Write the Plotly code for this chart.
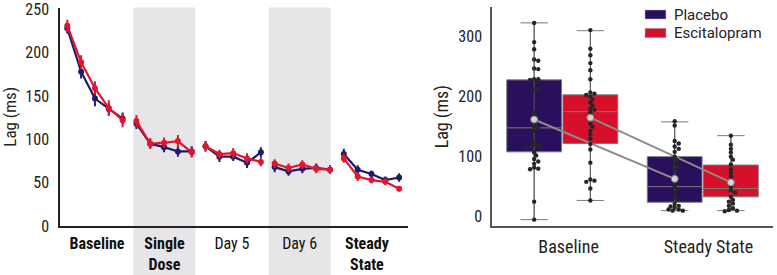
import plotly.graph_objects as go

# ---------------- data: left panel (time course) ----------------
group_names = ["Baseline", "Single Dose", "Day 5", "Day 6", "Steady State"]
group_ticktext = ["<b>Baseline</b>", "<b>Single<br>Dose</b>", "Day 5", "Day 6", "<b>Steady<br>State</b>"]
group_label_pos = [2.15, 7.03, 11.9, 16.8, 21.67]
shaded_groups = ["Single Dose", "Day 6"]
points_per_group = 5

placebo_lag = [228, 178, 147, 135, 124,
               118, 95, 91, 86, 86,
               92, 80, 80, 73, 85,
               68, 63, 66, 67, 65,
               83, 65, 60, 53, 56]
placebo_err = [6, 8, 9, 7, 7,
               6, 6, 6, 6, 6,
               6, 6, 5, 6, 6,
               6, 5, 5, 5, 5,
               6, 5, 4, 4, 5]
escit_lag = [231, 189, 159, 136, 122,
             121, 95, 96, 98, 85,
             92, 83, 84, 78, 74,
             72, 67, 71, 66, 65,
             78, 57, 53, 51, 43]
escit_err = [7, 8, 8, 9, 8,
             7, 6, 6, 7, 6,
             6, 5, 6, 6, 5,
             5, 5, 5, 5, 5,
             5, 5, 4, 4, 3]

# ---------------- data: right panel (box plots) ----------------
box_categories = ["Baseline", "Steady State"]
box_tick_pos = [0.045, 1.04]
conditions = ["Placebo", "Escitalopram"]

placebo_baseline = [323, 291, 279, 262, 260, 247, 246, 229, 229, 228, 213, 212,
                    175, 168, 160, 155, 150, 147, 143, 125, 120, 118, 117, 115,
                    107, 102, 96, 92, 88, 82, 80, 79, 25, -5]
escit_baseline = [311, 280, 269, 256, 244, 229, 207, 205, 203, 200, 195, 190,
                  185, 180, 178, 174, 167, 155, 150, 143, 137, 130, 121, 112,
                  90, 62, 60, 58, 47, 27]
placebo_steady = [159, 152, 126, 122, 117, 113, 108, 100, 95, 89, 84, 77, 63,
                  57, 50, 45, 40, 33, 28, 21, 18, 17, 15, 12, 12, 10, 10]
escit_steady = [135, 120, 113, 107, 100, 95, 87, 79, 73, 67, 59, 50, 44, 40,
                33, 28, 25, 22, 18, 14, 11, 10, 9]

# box statistics as drawn (order: placebo baseline, escit baseline, placebo SS, escit SS)
box_q1 = [108, 122, 24, 33]
box_median = [148, 175, 50, 47]
box_q3 = [228, 203, 100, 86]
box_lower = [-5, 27, 10, 10]
box_upper = [323, 310, 158, 135]
box_mean = [162, 165, 63, 57]

# ---------------- styling ----------------
NAVY = "#1c1b6c"
RED = "#e2152e"
BOX_NAVY = "#2a0f5c"
BOX_RED = "#d60f2a"
SHADE = "#e7e5e7"
FONT = "Liberation Sans Narrow, Roboto Condensed, Roboto, sans-serif"

fig = go.Figure()

# shaded groups
for name, pos in zip(group_names, group_label_pos):
    if name in shaded_groups:
        fig.add_shape(type="rect", xref="x", yref="paper", x0=pos - 2.24, x1=pos + 2.24,
                      y0=0, y1=0.973, fillcolor=SHADE, line_width=0, layer="below")


def broken(values):
    xs, ys = [], []
    for g in range(len(group_names)):
        for j in range(points_per_group):
            i = g * points_per_group + j
            xs.append(i)
            ys.append(values[i])
        xs.append(None)
        ys.append(None)
    return xs, ys


for vals, errs, col, name in [(placebo_lag, placebo_err, NAVY, "Placebo"),
                              (escit_lag, escit_err, RED, "Escitalopram")]:
    xs, ys = broken(vals)
    es = []
    k = 0
    for v in ys:
        if v is None:
            es.append(None)
        else:
            es.append(errs[k])
            k += 1
    fig.add_trace(go.Scatter(
        x=xs, y=ys, mode="lines+markers", name=name, showlegend=False,
        line=dict(color=col, width=2.2), marker=dict(color=col, size=6),
        error_y=dict(type="data", array=es, thickness=2, width=0, color=col),
        connectgaps=False, xaxis="x", yaxis="y"))

# ---------------- right panel ----------------
PX_X = 140.5   # pixels per category unit
PX_Y = 0.598   # pixels per ms
DOT = 4.4      # dot diameter in px
SEP = 3.4      # minimum centre distance used for the swarm layout
OFFSET = 0.2


def swarm(vals):
    placed = []
    offs = [0.0] * len(vals)
    order = sorted(range(len(vals)), key=lambda i: -vals[i])
    step = SEP * 0.6
    for i in order:
        yp = vals[i] * PX_Y
        k = 0
        while True:
            cand = [0.0] if k == 0 else [k * step, -k * step]
            found = None
            for c in cand:
                if all((c - xo) ** 2 + (yp - yo) ** 2 >= SEP ** 2 for xo, yo in placed):
                    found = c
                    break
            if found is not None:
                placed.append((found, yp))
                offs[i] = found / PX_X
                break
            k += 1
    return offs


series = [placebo_baseline, escit_baseline, placebo_steady, escit_steady]
fills = [BOX_NAVY, BOX_RED, BOX_NAVY, BOX_RED]
cat_idx = [0, 0, 1, 1]
cond_idx = [0, 1, 0, 1]
centers = [c + (-OFFSET if d == 0 else OFFSET) for c, d in zip(cat_idx, cond_idx)]

for k in range(4):
    fig.add_trace(go.Box(
        x=[centers[k]], q1=[box_q1[k]], median=[box_median[k]], q3=[box_q3[k]],
        lowerfence=[box_lower[k]], upperfence=[box_upper[k]],
        width=0.39, whiskerwidth=0.5, fillcolor=fills[k],
        line=dict(color="#7a7a7a", width=1), boxpoints=False,
        name=conditions[cond_idx[k]], showlegend=False, hoverinfo="skip",
        xaxis="x2", yaxis="y2"))
    # whisker line through the box
    fig.add_trace(go.Scatter(
        x=[centers[k], centers[k]], y=[box_lower[k], box_upper[k]], mode="lines",
        line=dict(color="#5a5a5a", width=1), showlegend=False, hoverinfo="skip",
        xaxis="x2", yaxis="y2"))

# mean lines
for d in range(2):
    ks = [k for k in range(4) if cond_idx[k] == d]
    fig.add_trace(go.Scatter(
        x=[centers[k] for k in ks], y=[box_mean[k] for k in ks], mode="lines",
        line=dict(color="#8c8c8c", width=2), showlegend=False, hoverinfo="skip",
        xaxis="x2", yaxis="y2"))

# dots
for k in range(4):
    offs = swarm(series[k])
    fig.add_trace(go.Scatter(
        x=[centers[k] + o for o in offs], y=series[k], mode="markers",
        marker=dict(color="#262626", size=DOT), showlegend=False,
        xaxis="x2", yaxis="y2"))

# mean markers
fig.add_trace(go.Scatter(
    x=centers, y=box_mean, mode="markers",
    marker=dict(color="#d4d4d4", size=7, line=dict(color="#7a7a7a", width=1)),
    showlegend=False, xaxis="x2", yaxis="y2"))

# custom legend
legend_items = [(conditions[0], BOX_NAVY, 0.9309, 0.9636, 0.9455),
                (conditions[1], BOX_RED, 0.8629, 0.8971, 0.8789)]
for name, col, y0, y1, yt in legend_items:
    fig.add_shape(type="rect", xref="paper", yref="paper", x0=0.8301, x1=0.8571,
                  y0=y0, y1=y1, fillcolor=col, line=dict(color="#b9b9d0", width=0.5))
    fig.add_annotation(xref="paper", yref="paper", x=0.8645, y=yt, text=name,
                       showarrow=False, xanchor="left", yanchor="middle",
                       font=dict(family="Roboto, sans-serif", size=15, color="#222"))

common = dict(showgrid=False, zeroline=False, showline=True, ticks="",
              ticklabeloverflow="allow")

fig.update_layout(
    width=777, height=275, margin=dict(l=0, r=0, t=0, b=0, autoexpand=False),
    paper_bgcolor="white", plot_bgcolor="rgba(0,0,0,0)", showlegend=False,
    font=dict(family=FONT, color="#222"),
    xaxis=dict(domain=[0.0772, 0.525], range=[-0.528, 24.635], automargin=False,
               tickvals=group_label_pos, ticktext=group_ticktext,
               linecolor="#222", linewidth=1.5, ticklabelstandoff=2,
               tickfont=dict(family=FONT, size=16, color="#111"), **common),
    yaxis=dict(domain=[0.178, 0.9727], range=[0, 252], automargin=False,
               tickvals=[0, 50, 100, 150, 200, 250],
               linecolor="#222", linewidth=1.5, ticklabelstandoff=6,
               tickfont=dict(family=FONT, size=16, color="#222"),
               title=dict(text="Lag (ms)", standoff=11, font=dict(family=FONT, size=17)),
               **common),
    xaxis2=dict(domain=[0.6332, 0.9949], range=[-0.5, 1.5], anchor="y2", automargin=False,
                tickvals=box_tick_pos, ticktext=box_categories,
                linecolor="#555", linewidth=1.5, ticklabelstandoff=4,
                tickfont=dict(family=FONT, size=18, color="#222"), **common),
    yaxis2=dict(domain=[0.1782, 0.9735], range=[-15.6, 349], anchor="x2", automargin=True,
                tickvals=[0, 100, 200, 300],
                linecolor="#555", linewidth=1.5, ticklabelstandoff=5,
                tickfont=dict(family=FONT, size=16, color="#222"),
                title=dict(text="Lag (ms)", standoff=5, font=dict(family=FONT, size=18)),
                **common),
)

fig.write_html("out.html", config={"displayModeBar": False},
               post_script="document.body.style.margin='0';document.body.style.overflow='hidden';")
